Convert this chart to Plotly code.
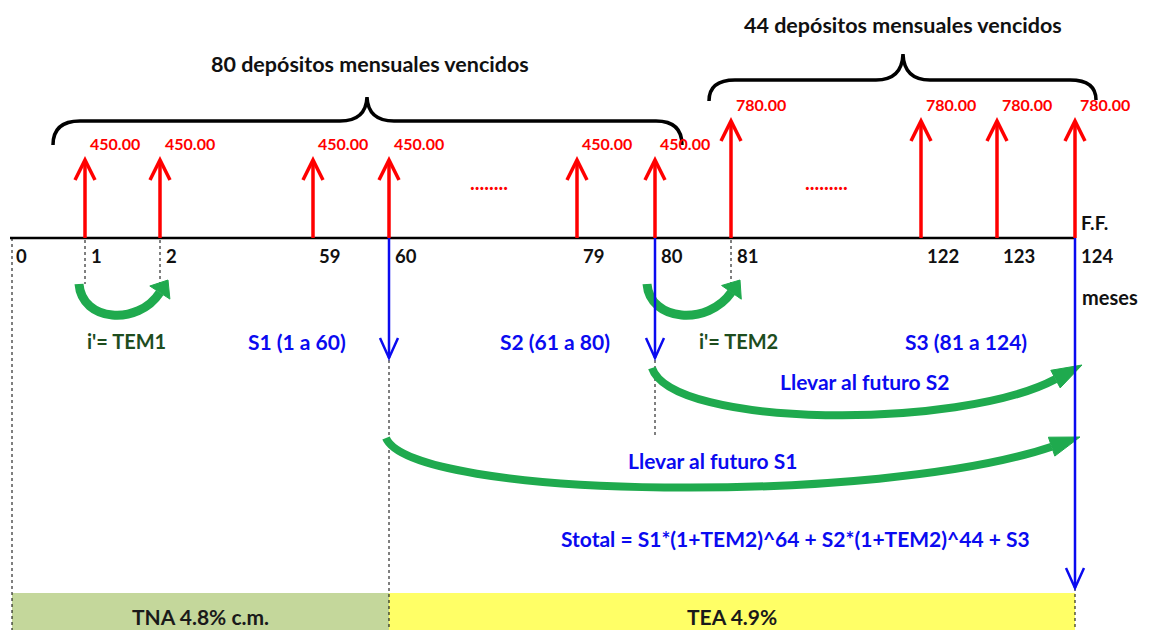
import plotly.graph_objects as go

# ---------------- data ----------------
periods = [0, 1, 2, 59, 60, 79, 80, 81, 122, 123, 124]
deposit_periods = [1, 2, 59, 60, 79, 80, 81, 122, 123, 124]
deposit_amounts = [450.00, 450.00, 450.00, 450.00, 450.00, 450.00, 780.00, 780.00, 780.00, 780.00]
sum_periods = [60, 80, 124]
sum_labels = ["S1 (1 a 60)", "S2 (61 a 80)", "S3 (81 a 124)"]
rate_labels = ["i'= TEM1", "i'= TEM2"]
group_titles = ["80 depósitos mensuales vencidos", "44 depósitos mensuales vencidos"]
band_labels = ["TNA 4.8% c.m.", "TEA 4.9%"]
formula = "Stotal = S1*(1+TEM2)^64 + S2*(1+TEM2)^44 + S3"
future_labels = ["Llevar al futuro S2", "Llevar al futuro S1"]

# ---------------- layout (pixel positions of the timeline columns) ----------------
col_x = {0: 12, 1: 85, 2: 160, 59: 313, 60: 389, 79: 577, 80: 655, 81: 731,
         122: 921, 123: 997, 124: 1075}
AXIS_Y = 238
RED = "#FF0000"
BLUE = "#0A0AF0"
GREEN = "#1FAA4E"
DKGREEN = "#1E4D1E"
FONT = "Lato"

shapes = []
annotations = []


def line(x0, y0, x1, y1, color, width, dash="solid", layer="above"):
    shapes.append(dict(type="line", x0=x0, y0=y0, x1=x1, y1=y1, xref="x", yref="y",
                       line=dict(color=color, width=width, dash=dash), layer=layer))


def path(d, color, width, fill=None):
    s = dict(type="path", path=d, xref="x", yref="y", line=dict(color=color, width=width))
    if fill:
        s["fillcolor"] = fill
    shapes.append(s)


def text(x, y, t, size, color, xanchor="center"):
    annotations.append(dict(x=x, y=y, xref="x", yref="y", text=f"<b>{t}</b>", showarrow=False,
                            xanchor=xanchor, yanchor="middle",
                            font=dict(family=FONT, size=size, color=color)))


def straight_arrow(x, y0, y1, color, width, hw=10, hl=20):
    # y0 = tail, y1 = tip
    sgn = 1 if y1 > y0 else -1
    path(f"M {x},{y0} L {x},{y1}", color, width)
    path(f"M {x-hw},{y1 - sgn*hl} L {x},{y1} L {x+hw},{y1 - sgn*hl}", color, width)


def curved_arrow(p0, c1, c2, p1, width, hl, hw):
    # cubic bezier body ending at arrow base, filled triangular head with tip at p1
    dx, dy = p1[0] - c2[0], p1[1] - c2[1]
    n = (dx * dx + dy * dy) ** 0.5
    ux, uy = dx / n, dy / n
    bx, by = p1[0] - ux * hl, p1[1] - uy * hl
    path(f"M {p0[0]},{p0[1]} C {c1[0]},{c1[1]} {c2[0]},{c2[1]} {bx:.1f},{by:.1f}", GREEN, width)
    px, py = -uy, ux
    a = (bx + px * hw, by + py * hw)
    b = (bx - px * hw, by - py * hw)
    path(f"M {a[0]:.1f},{a[1]:.1f} L {p1[0]},{p1[1]} L {b[0]:.1f},{b[1]:.1f} Z", GREEN, 1, fill=GREEN)


# bottom bands
shapes.append(dict(type="rect", x0=col_x[0], x1=col_x[60], y0=593, y1=630, xref="x", yref="y",
                   fillcolor="#C4D79B", line=dict(width=0), layer="below"))
shapes.append(dict(type="rect", x0=col_x[60], x1=col_x[124], y0=593, y1=630, xref="x", yref="y",
                   fillcolor="#FFFF66", line=dict(width=0), layer="below"))
text((col_x[0] + col_x[60]) / 2, 616, band_labels[0], 21, "#1a1a1a")
text((col_x[60] + col_x[124]) / 2, 616, band_labels[1], 21, "#1a1a1a")

# dotted guide lines
line(col_x[0], AXIS_Y, col_x[0], 630, "black", 1, "dot")
for p in (1, 2, 81):
    line(col_x[p], AXIS_Y + 2, col_x[p], 284, "black", 1, "dot")
line(col_x[60], 360, col_x[60], 630, "black", 1, "dot")
line(col_x[80], 360, col_x[80], 436, "black", 1, "dot")
line(col_x[124], 588, col_x[124], 630, "black", 1, "dot")

# green curved arrows
curved_arrow((79, 284), (82, 322), (138, 326), (168, 280), 9, 15, 12)
curved_arrow((647, 284), (650, 322), (708, 326), (740, 280), 9, 15, 12)
curved_arrow((652, 368), (672, 428), (960, 430), (1082, 365), 8, 30, 10)
curved_arrow((386, 438), (412, 500), (880, 505), (1080, 437), 8, 30, 10)

# timeline
line(10, AXIS_Y, col_x[124], AXIS_Y, "black", 2.5)

# deposit arrows + labels
for p, a in zip(deposit_periods, deposit_amounts):
    x = col_x[p]
    tip = 160 if a < 500 else 121
    straight_arrow(x, AXIS_Y, tip, RED, 3.5, 10, 20)
    text(x + 3, tip - 17, f"{a:,.2f}", 16, RED, xanchor="left")

# continuation dots
text(489, 182, "........", 20, RED)
text(826, 182, ".........", 20, RED)

# period labels
for p in periods:
    dx = 2 if p == 0 else 4
    text(col_x[p] + dx, 256, str(p), 18.5, "#111111", xanchor="left")
text(col_x[124] + 4, 222, "F.F.", 19, "#111111", xanchor="left")
text(col_x[124] + 5, 297, "meses", 20, "#111111", xanchor="left")

# blue sum arrows
straight_arrow(col_x[60], AXIS_Y, 358, BLUE, 2.5, 9, 20)
straight_arrow(col_x[80], AXIS_Y, 358, BLUE, 2.5, 9, 20)
straight_arrow(col_x[124], AXIS_Y, 588, BLUE, 2.5, 9, 20)

# row labels
text(126, 341, rate_labels[0], 20, DKGREEN)
text(738, 341, rate_labels[1], 20, DKGREEN)
text(297, 341, sum_labels[0], 21, BLUE)
text(555, 341, sum_labels[1], 21, BLUE)
text(966, 341, sum_labels[2], 21, BLUE)

# future value labels and formula
text(864, 381, future_labels[0], 21, BLUE)
text(712, 460, future_labels[1], 21, BLUE)
text(795, 538, formula, 21, BLUE)

# braces
path("M 53,145 Q 53,121 80,121 L 340,121 Q 366,121 367,97 Q 368,121 394,121 "
     "L 656,121 Q 682,121 682,145", "black", 3.5)
path("M 709,101 Q 709,80 735,80 L 876,80 Q 902,80 903,54 Q 904,80 930,80 "
     "L 1070,80 Q 1096,80 1096,100", "black", 3.5)
text(370, 64, group_titles[0], 21.5, "#111111")
text(903, 25, group_titles[1], 21.5, "#111111")

fig = go.Figure()
fig.update_layout(
    width=1149, height=630,
    margin=dict(l=0, r=0, t=0, b=0),
    paper_bgcolor="white", plot_bgcolor="white",
    xaxis=dict(range=[0, 1149], visible=False, fixedrange=True),
    yaxis=dict(range=[630, 0], visible=False, fixedrange=True),
    shapes=shapes, annotations=annotations, showlegend=False,
)
fig.write_html("out.html", config={"displayModeBar": False},
               post_script="document.body.style.margin='0';document.body.style.overflow='hidden';")
